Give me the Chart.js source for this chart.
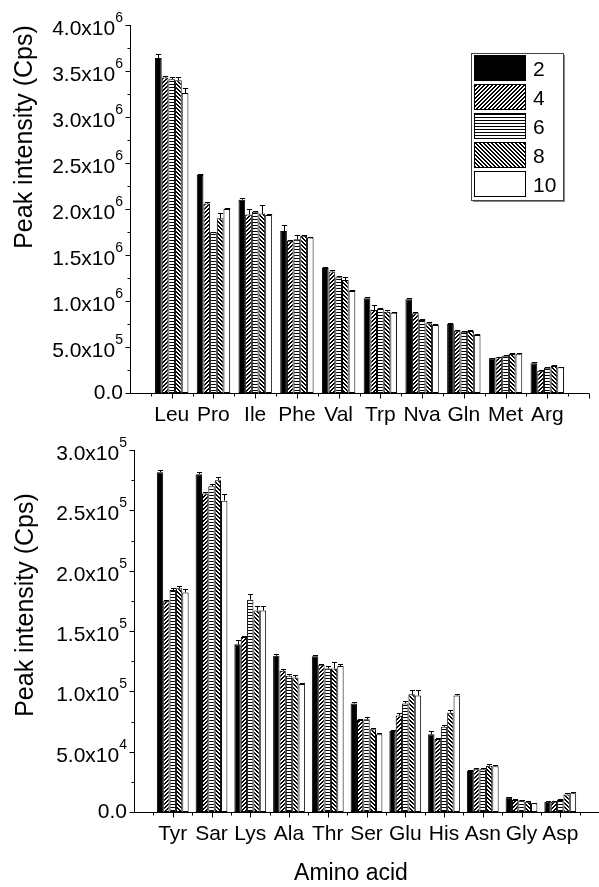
<!DOCTYPE html>
<html>
<head>
<meta charset="utf-8">
<script src="https://cdn.jsdelivr.net/npm/chart.js@4.4.0/dist/chart.umd.min.js"></script>
<style>
  html, body { margin: 0; padding: 0; background: #fff; overflow: hidden; }
  #wrap { position: relative; width: 599px; height: 887px; }
  #c1 { position: absolute; left: 0; top: 0; }
  #c2 { position: absolute; left: 0; top: 423px; }
</style>
</head>
<body>
<div id="wrap">
  <canvas id="c1" width="599" height="443"></canvas>
  <canvas id="c2" width="599" height="464"></canvas>
</div>
<script>
// series names (time, legend)
const seriesNames = ['2', '4', '6', '8', '10'];

// top panel
const topLabels = ['Leu', 'Pro', 'Ile', 'Phe', 'Val', 'Trp', 'Nva', 'Gln', 'Met', 'Arg'];
const topS2  = [3.64e6, 2.37e6, 2.10e6, 1.76e6, 1.36e6, 1.03e6, 1.02e6, 0.75e6, 0.377e6, 0.323e6];
const topS4  = [3.43e6, 2.06e6, 1.94e6, 1.655e6, 1.32e6, 0.902e6, 0.866e6, 0.677e6, 0.388e6, 0.243e6];
const topS6  = [3.41e6, 1.747e6, 1.97e6, 1.67e6, 1.258e6, 0.913e6, 0.793e6, 0.666e6, 0.405e6, 0.275e6];
const topS8  = [3.40e6, 1.90e6, 1.95e6, 1.71e6, 1.228e6, 0.884e6, 0.757e6, 0.674e6, 0.424e6, 0.293e6];
const topS10 = [3.26e6, 2.00e6, 1.935e6, 1.69e6, 1.109e6, 0.873e6, 0.739e6, 0.63e6, 0.42e6, 0.279e6];
const topE2  = [0.05e6, 0.012e6, 0.018e6, 0.065e6, 0.01e6, 0.012e6, 0.015e6, 0.01e6, 0.008e6, 0.01e6];
const topE4  = [0.015e6, 0.02e6, 0.06e6, 0.008e6, 0.012e6, 0.05e6, 0.01e6, 0.01e6, 0.008e6, 0.01e6];
const topE6  = [0.02e6, 0.005e6, 0.012e6, 0.05e6, 0.015e6, 0.01e6, 0.01e6, 0.01e6, 0.01e6, 0.01e6];
const topE8  = [0.04e6, 0.055e6, 0.09e6, 0.012e6, 0.03e6, 0.02e6, 0.02e6, 0.012e6, 0.01e6, 0.012e6];
const topE10 = [0.058e6, 0.012e6, 0.01e6, 0.01e6, 0.01e6, 0.01e6, 0.01e6, 0.01e6, 0.01e6, 0.005e6];
const topYLabels = ['0.0', '5.0x10^5', '1.0x10^6', '1.5x10^6', '2.0x10^6', '2.5x10^6', '3.0x10^6', '3.5x10^6', '4.0x10^6'];

// bottom panel
const botLabels = ['Tyr', 'Sar', 'Lys', 'Ala', 'Thr', 'Ser', 'Glu', 'His', 'Asn', 'Gly', 'Asp'];
const botS2  = [2.815e5, 2.80e5, 1.39e5, 1.295e5, 1.29e5, 0.90e5, 0.671e5, 0.644e5, 0.34e5, 0.122e5, 0.085e5];
const botS4  = [1.75e5, 2.64e5, 1.45e5, 1.17e5, 1.22e5, 0.762e5, 0.80e5, 0.605e5, 0.354e5, 0.099e5, 0.085e5];
const botS6  = [1.84e5, 2.70e5, 1.76e5, 1.13e5, 1.19e5, 0.768e5, 0.90e5, 0.707e5, 0.354e5, 0.097e5, 0.099e5];
const botS8  = [1.855e5, 2.75e5, 1.67e5, 1.115e5, 1.19e5, 0.685e5, 0.975e5, 0.823e5, 0.384e5, 0.085e5, 0.146e5];
const botS10 = [1.82e5, 2.58e5, 1.67e5, 1.06e5, 1.21e5, 0.644e5, 0.965e5, 0.965e5, 0.38e5, 0.072e5, 0.155e5];
const botE2  = [0.02e5, 0.02e5, 0.035e5, 0.012e5, 0.01e5, 0.01e5, 0.01e5, 0.03e5, 0.01e5, 0.005e5, 0.005e5];
const botE4  = [0.01e5, 0.015e5, 0.01e5, 0.015e5, 0.01e5, 0.01e5, 0.02e5, 0.01e5, 0.01e5, 0.005e5, 0.005e5];
const botE6  = [0.02e5, 0.015e5, 0.05e5, 0.015e5, 0.02e5, 0.02e5, 0.02e5, 0.01e5, 0.01e5, 0.005e5, 0.005e5];
const botE8  = [0.015e5, 0.025e5, 0.035e5, 0.02e5, 0.05e5, 0.015e5, 0.04e5, 0.025e5, 0.015e5, 0.005e5, 0.008e5];
const botE10 = [0.03e5, 0.055e5, 0.04e5, 0.01e5, 0.015e5, 0.01e5, 0.05e5, 0.01e5, 0.01e5, 0.005e5, 0.008e5];
const botYLabels = ['0.0', '5.0x10^4', '1.0x10^5', '1.5x10^5', '2.0x10^5', '2.5x10^5', '3.0x10^5'];

const FONT = '"Liberation Sans", Arial, sans-serif';

// hatch fills like the Origin patterns
function makePattern(kind) {
    const c = document.createElement('canvas');
    c.width = 4; c.height = kind === 'horiz' ? 3 : 4;
    const g = c.getContext('2d');
    const img = g.createImageData(c.width, c.height);
    for (let y = 0; y < c.height; y++) {
        for (let x = 0; x < c.width; x++) {
            let black = false;
            if (kind === 'fwd') black = ((x + y) % 4) < 2;
            if (kind === 'back') black = ((x - y + 8) % 4) < 2;
            if (kind === 'horiz') black = y === 0;
            const v = black ? 0 : 255;
            const i = (y * c.width + x) * 4;
            img.data[i] = v; img.data[i + 1] = v; img.data[i + 2] = v; img.data[i + 3] = 255;
        }
    }
    g.putImageData(img, 0, 0);
    return g.createPattern(c, 'repeat');
}

const fills = ['#000000', makePattern('fwd'), makePattern('horiz'), makePattern('back'), '#ffffff'];

function buildDatasets(series, errors) {
    return series.map((vals, i) => ({
        label: seriesNames[i],
        data: [null, ...vals, null],
        errors: [null, ...errors[i], null],
        backgroundColor: fills[i],
        borderColor: '#000',
        borderWidth: 1,
        borderSkipped: false
    }));
}

function drawYLabel(ctx, text, right, y) {
    const parts = text.split('^');
    if (parts.length === 1) {
        ctx.font = '21px ' + FONT;
        ctx.textAlign = 'right';
        ctx.fillText(parts[0], right, y + 6);
        return;
    }
    ctx.font = '14px ' + FONT;
    const supW = ctx.measureText(parts[1]).width;
    ctx.textAlign = 'left';
    ctx.fillText(parts[1], right - supW, y - 3);
    ctx.font = '21px ' + FONT;
    ctx.textAlign = 'right';
    ctx.fillText(parts[0], right - supW, y + 10);
}

const originAxes = {
    id: 'originAxes',
    afterDatasetsDraw(chart) {
        const ctx = chart.ctx;
        const ys = chart.scales.y;
        ctx.save();
        ctx.strokeStyle = '#000';
        ctx.lineWidth = 1;
        chart.data.datasets.forEach((ds, i) => {
            const meta = chart.getDatasetMeta(i);
            meta.data.forEach((el, j) => {
                const v = ds.data[j], e = ds.errors[j];
                if (v == null || e == null) return;
                const x = Math.round(el.x) + 0.5;
                const yTop = Math.round(ys.getPixelForValue(v + e)) + 0.5;
                const half = el.width * 0.4;
                ctx.beginPath();
                ctx.moveTo(x, el.y);
                ctx.lineTo(x, yTop);
                ctx.moveTo(x - half, yTop);
                ctx.lineTo(x + half, yTop);
                ctx.stroke();
            });
        });
        ctx.restore();
    },
    afterDraw(chart, args, opts) {
        const ctx = chart.ctx;
        const a = chart.chartArea;
        const xs = chart.scales.x, ys = chart.scales.y;
        ctx.save();
        ctx.strokeStyle = '#000';
        ctx.fillStyle = '#000';
        ctx.lineWidth = 1;

        const x0 = Math.round(a.left) + 0.5;
        const yb = Math.round(a.bottom) + 0.5;
        ctx.beginPath();
        ctx.moveTo(x0, Math.round(a.top));
        ctx.lineTo(x0, yb);
        ctx.lineTo(a.right, yb);

        // x ticks at every half category
        const n = xs.getLabels().length;
        for (let k = 1; k <= 2 * (n - 1); k++) {
            const px = Math.round(xs.getPixelForValue(k / 2)) + 0.5;
            const len = k % 2 === 0 ? 5 : 3;
            ctx.moveTo(px, yb);
            ctx.lineTo(px, yb + len);
        }
        // y ticks, major + minor
        const step = ys.ticks[1].value - ys.ticks[0].value;
        ys.ticks.forEach((t, i) => {
            const py = Math.round(ys.getPixelForValue(t.value)) + 0.5;
            ctx.moveTo(x0, py);
            ctx.lineTo(x0 - 5, py);
            if (i < ys.ticks.length - 1) {
                const pm = Math.round(ys.getPixelForValue(t.value + step / 2)) + 0.5;
                ctx.moveTo(x0, pm);
                ctx.lineTo(x0 - 3, pm);
            }
        });
        ctx.stroke();

        // category labels
        ctx.font = '21px ' + FONT;
        ctx.textAlign = 'center';
        ctx.textBaseline = 'alphabetic';
        xs.getLabels().forEach((lab, i) => {
            if (!lab) return;
            ctx.fillText(lab, xs.getPixelForValue(i), a.bottom + 28);
        });

        // value labels
        ys.ticks.forEach((t, i) => {
            drawYLabel(ctx, opts.yLabels[i], a.left - 7, ys.getPixelForValue(t.value));
        });

        // y title
        ctx.save();
        ctx.translate(opts.yTitleX, opts.yTitleY);
        ctx.rotate(-Math.PI / 2);
        ctx.font = '25px ' + FONT;
        ctx.textAlign = 'center';
        ctx.fillText(opts.yTitle, 0, 0);
        ctx.restore();

        if (opts.xTitle) {
            ctx.font = '23px ' + FONT;
            ctx.textAlign = 'center';
            ctx.fillText(opts.xTitle, opts.xTitleX, opts.xTitleY);
        }

        // legend box
        if (opts.legend) {
            const L = opts.legend;
            const h = L.pitch * chart.data.datasets.length + 2;
            ctx.fillStyle = '#888';
            ctx.fillRect(L.x + 2, L.y + h, L.w, 2);
            ctx.fillRect(L.x + L.w, L.y + 2, 2, h);
            ctx.fillStyle = '#fff';
            ctx.fillRect(L.x, L.y, L.w, h);
            ctx.strokeStyle = '#444';
            ctx.strokeRect(L.x + 0.5, L.y + 0.5, L.w, h);
            chart.data.datasets.forEach((ds, i) => {
                const sy = L.y + 2 + i * L.pitch;
                ctx.fillStyle = ds.backgroundColor;
                ctx.fillRect(L.x + 3, sy, 52, L.pitch - 3);
                ctx.strokeStyle = '#000';
                ctx.strokeRect(L.x + 3.5, sy + 0.5, 51, L.pitch - 4);
                ctx.fillStyle = '#000';
                ctx.font = '21px ' + FONT;
                ctx.textAlign = 'left';
                ctx.fillText(ds.label, L.x + 62, sy + 21);
            });
        }
        ctx.restore();
    }
};

function makeChart(id, labels, series, errors, yMax, yStep, leftW, bottomH, padTop, padRight, pct, axesOpts) {
    return new Chart(document.getElementById(id), {
        type: 'bar',
        data: {
            labels: ['', ...labels, ''],
            datasets: buildDatasets(series, errors)
        },
        options: {
            responsive: false,
            animation: false,
            layout: { padding: { top: padTop, right: padRight, left: 0, bottom: 0 } },
            datasets: { bar: { categoryPercentage: pct, barPercentage: 1.0 } },
            scales: {
                x: {
                    offset: false,
                    grid: { display: false },
                    border: { display: false },
                    ticks: { display: false },
                    afterFit(s) { s.height = bottomH; }
                },
                y: {
                    min: 0,
                    max: yMax,
                    ticks: { display: false, stepSize: yStep },
                    grid: { display: false },
                    border: { display: false },
                    afterFit(s) { s.width = leftW; }
                }
            },
            plugins: {
                legend: { display: false },
                tooltip: { enabled: false },
                originAxes: axesOpts
            }
        },
        plugins: [originAxes]
    });
}

makeChart('c1', topLabels, [topS2, topS4, topS6, topS8, topS10], [topE2, topE4, topE6, topE8, topE10],
    4e6, 5e5, 130, 50, 25, 10, 0.8, {
        yLabels: topYLabels,
        yTitle: 'Peak intensity (Cps)', yTitleX: 32, yTitleY: 137,
        legend: { x: 471, y: 53, w: 92, pitch: 29 }
    });

makeChart('c2', botLabels, [botS2, botS4, botS6, botS8, botS10], [botE2, botE4, botE6, botE8, botE10],
    3e5, 5e4, 134, 75, 27, 0, 0.82, {
        yLabels: botYLabels,
        yTitle: 'Peak intensity (Cps)', yTitleX: 33, yTitleY: 182,
        xTitle: 'Amino acid', xTitleX: 351, xTitleY: 457
    });
</script>
</body>
</html>
